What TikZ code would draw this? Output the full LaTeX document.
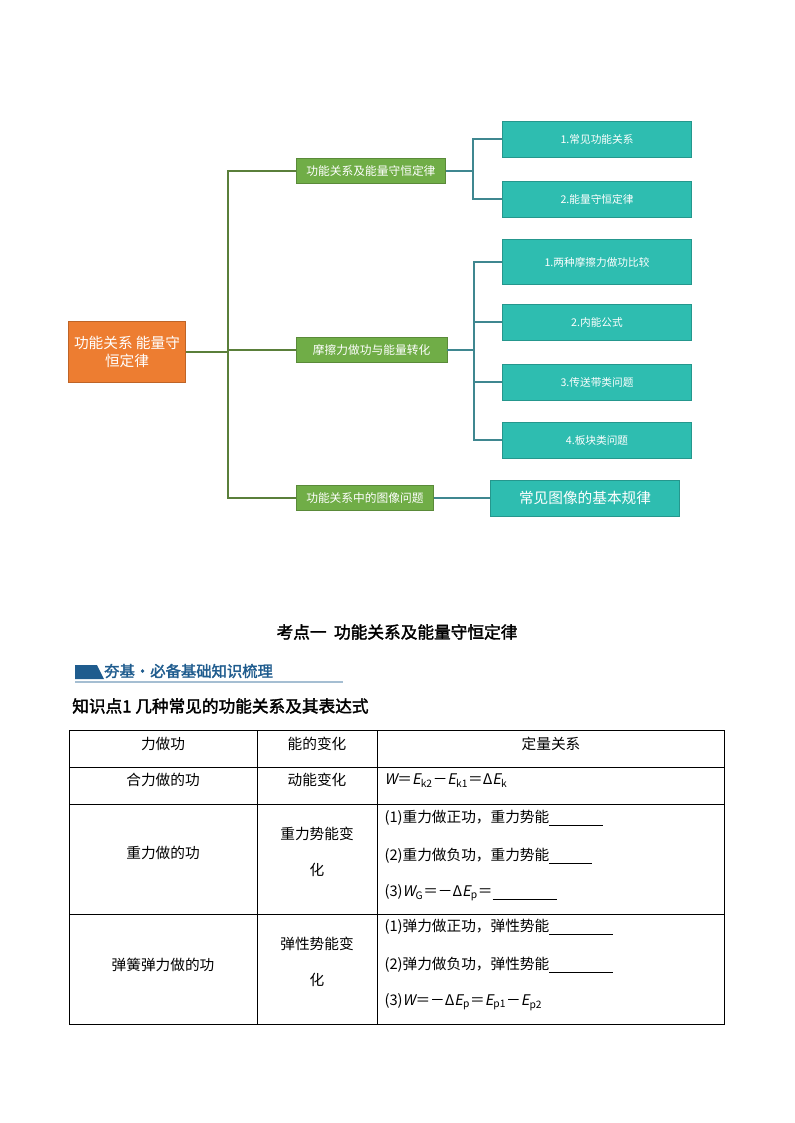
\documentclass[tikz,border=0pt]{standalone}
\usepackage{fontspec}
\setmainfont{Noto Sans CJK SC}[AutoFakeSlant=0.2,AutoFakeBold=2]
\usetikzlibrary{positioning}
\definecolor{rootorange}{HTML}{ED7D31}
\definecolor{branchgreen}{HTML}{70AD47}
\definecolor{leafteal}{HTML}{2EBDB0}
\definecolor{trunkline}{HTML}{5A7F3A}
\definecolor{leafline}{HTML}{3F8790}
\definecolor{bannerblue}{HTML}{1F5C8E}
\newcommand{\blank}[1]{\rule[-2pt]{#1}{0.5pt}}
\begin{document}
\begin{tikzpicture}[x=0.75pt,y=-0.75pt,
  rootbox/.style = {fill=rootorange, draw=rootorange!80!black, text=white, font=\fontsize{11}{14}\selectfont, minimum width=88pt, minimum height=46pt, align=center, inner sep=1pt},
  branch/.style = {fill=branchgreen, draw=branchgreen!80!black, text=white, font=\fontsize{8.8}{10}\selectfont, minimum height=19pt, inner sep=2pt, anchor=west},
  leaf/.style = {fill=leafteal, draw=leafteal!80!black, text=white, font=\fontsize{8}{10}\selectfont, minimum width=142pt, minimum height=27pt},
  cell/.style = {font=\fontsize{11}{14}\selectfont, align=center, anchor=center},
  rel/.style = {font=\fontsize{11}{14}\selectfont, anchor=west, inner sep=1pt}]
\useasboundingbox (0,0) rectangle (794,1123);
% mind map
\node[rootbox] (root) at (127,352) {功能关系\ 能量守\\恒定律};
\node[branch, minimum width=112pt] (b1) at (296,171) {功能关系及能量守恒定律};
\node[branch, minimum width=113pt] (b2) at (296,350) {摩擦力做功与能量转化};
\node[branch, minimum width=103pt] (b3) at (296,498) {功能关系中的图像问题};
\node[leaf] (l1) at (597,139) {1.常见功能关系};
\node[leaf] (l2) at (597,199) {2.能量守恒定律};
\node[leaf, minimum height=34pt] (l3) at (597,262) {1.两种摩擦力做功比较};
\node[leaf] (l4) at (597,322) {2.内能公式};
\node[leaf] (l5) at (597,382) {3.传送带类问题};
\node[leaf] (l6) at (597,440) {4.板块类问题};
\node[leaf, font=\fontsize{11}{13}\selectfont] (l7) at (585,498) {常见图像的基本规律};
\coordinate (trunk) at (228,352);
\draw[trunkline, thick] (root.east) -- (trunk);
\draw[trunkline, thick] (trunk) |- (b1.west);
\draw[trunkline, thick] (trunk) |- (b2.west);
\draw[trunkline, thick] (trunk) |- (b3.west);
\coordinate (j1) at (473,171);
\coordinate (j2) at (474,350);
\draw[leafline, thick] (b1.east) -- (j1);
\draw[leafline, thick] (j1) |- (l1.west);
\draw[leafline, thick] (j1) |- (l2.west);
\draw[leafline, thick] (b2.east) -- (j2);
\foreach \n in {l3,l4,l5,l6}
  \draw[leafline, thick] (j2) |- (\n.west);
\draw[leafline, thick] (b3.east) -- (l7.west);
% section heading
\node[font=\fontsize{12.5}{15}\selectfont\bfseries] (title) at (397,632) {考点一\ \ 功能关系及能量守恒定律};
\fill[bannerblue] (75,665) -- (97,665) -- (104,679) -- (75,679) -- cycle;
\node[anchor=west, text=bannerblue, font=\fontsize{11.5}{14}\selectfont\bfseries, inner sep=0pt] (banner) at (104,671) {夯基·必备基础知识梳理};
\draw[bannerblue!40, line width=0.8pt] (75,682) -- (343,682);
\node[anchor=west, font=\fontsize{12.5}{15}\selectfont\bfseries, inner sep=0pt] (kp) at (72,706) {知识点1\ 几种常见的功能关系及其表达式};
% table
\draw[line width=0.6pt] (69,730) rectangle (724,1024);
\foreach \y in {767,804,914} \draw[line width=0.6pt] (69,\y) -- (724,\y);
\foreach \x in {257,377} \draw[line width=0.6pt] (\x,730) -- (\x,1024);
\node[cell] (h1) at (163,744) {力做功};
\node[cell] (h2) at (317,744) {能的变化};
\node[cell] (h3) at (551,744) {定量关系};
\node[cell] (r1a) at (163,780) {合力做的功};
\node[cell] (r1b) at (317,780) {动能变化};
\node[rel] (r1c) at (383,781) {\textit{W}＝\textit{E}\textsubscript{k2}－\textit{E}\textsubscript{k1}＝Δ\textit{E}\textsubscript{k}};
\node[cell] (r2a) at (163,853) {重力做的功};
\node[cell, font=\fontsize{11}{27}\selectfont] (r2b) at (317,852) {重力势能变\\化};
\node[rel] (r2c) at (383,818) {(1)重力做正功，重力势能\blank{40pt}};
\node[rel] (r2d) at (383,856) {(2)重力做负功，重力势能\blank{32pt}};
\node[rel] (r2e) at (383,893) {(3)\textit{W}\textsubscript{G}＝－Δ\textit{E}\textsubscript{p}＝\blank{48pt}};
\node[cell] (r3a) at (163,965) {弹簧弹力做的功};
\node[cell, font=\fontsize{11}{27}\selectfont] (r3b) at (317,962) {弹性势能变\\化};
\node[rel] (r3c) at (383,927) {(1)弹力做正功，弹性势能\blank{48pt}};
\node[rel] (r3d) at (383,965) {(2)弹力做负功，弹性势能\blank{48pt}};
\node[rel] (r3e) at (383,1002) {(3)\textit{W}＝－Δ\textit{E}\textsubscript{p}＝\textit{E}\textsubscript{p1}－\textit{E}\textsubscript{p2}};
\end{tikzpicture}
\end{document}
